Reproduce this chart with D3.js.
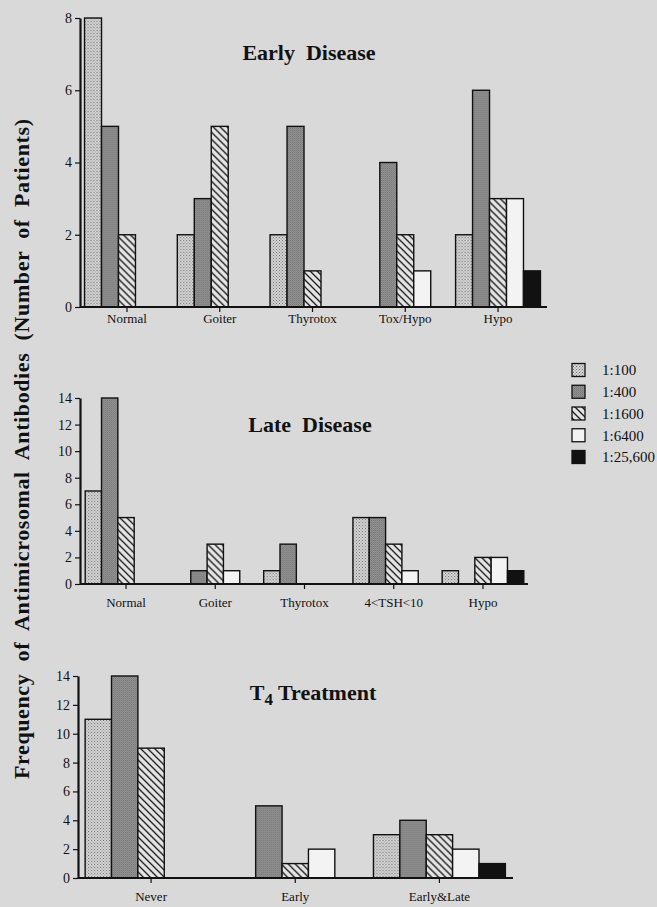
<!DOCTYPE html>
<html>
<head>
<meta charset="utf-8">
<script src="https://cdn.jsdelivr.net/npm/d3@7"></script>
<style>
  html, body { margin: 0; padding: 0; background: #d9d9d9; }
  svg { display: block; }
  text { font-family: "Liberation Serif", "Times New Roman", serif; fill: #111; }
</style>
</head>
<body>
<svg id="chart" width="657" height="907"></svg>
<script>
// ---------------- DATA ----------------
const seriesNames = ["1:100", "1:400", "1:1600", "1:6400", "1:25,600"];

const earlyCategories = ["Normal", "Goiter", "Thyrotox", "Tox/Hypo", "Hypo"];
const earlyValues = [
  [8, 5, 2, 0, 0],
  [2, 3, 5, 0, 0],
  [2, 5, 1, 0, 0],
  [0, 4, 2, 1, 0],
  [2, 6, 3, 3, 1]
];
const earlyTicks = [0, 2, 4, 6, 8];

const lateCategories = ["Normal", "Goiter", "Thyrotox", "4<TSH<10", "Hypo"];
const lateValues = [
  [7, 14, 5, 0, 0],
  [0, 1, 3, 1, 0],
  [1, 3, 0, 0, 0],
  [5, 5, 3, 1, 0],
  [1, 0, 2, 2, 1]
];
const lateTicks = [0, 2, 4, 6, 8, 10, 12, 14];

const treatCategories = ["Never", "Early", "Early&Late"];
const treatValues = [
  [11, 14, 9, 0, 0],
  [0, 5, 1, 2, 0],
  [3, 4, 3, 2, 1]
];
const treatTicks = [0, 2, 4, 6, 8, 10, 12, 14];

const yAxisTitle = "Frequency  of  Antimicrosomal  Antibodies  (Number  of  Patients)";

// ---------------- DRAWING ----------------
const svg = d3.select("#chart");
const defs = svg.append("defs");

// 1:100 light stipple
const p100 = defs.append("pattern").attr("id", "p100").attr("patternUnits", "userSpaceOnUse")
  .attr("width", 3).attr("height", 3);
p100.append("rect").attr("width", 3).attr("height", 3).attr("fill", "#d6d6d6");
p100.append("rect").attr("x", 0).attr("y", 0).attr("width", 1).attr("height", 1).attr("fill", "#6e6e6e");
p100.append("rect").attr("x", 1.5).attr("y", 1.5).attr("width", 1).attr("height", 1).attr("fill", "#7e7e7e");

// 1:400 medium grey texture
const p400 = defs.append("pattern").attr("id", "p400").attr("patternUnits", "userSpaceOnUse")
  .attr("width", 2).attr("height", 2);
p400.append("rect").attr("width", 2).attr("height", 2).attr("fill", "#939393");
p400.append("rect").attr("width", 1).attr("height", 1).attr("fill", "#777777");
p400.append("rect").attr("x", 1).attr("y", 1).attr("width", 1).attr("height", 1).attr("fill", "#838383");

// 1:1600 diagonal hatch
const hs = 7;
const p1600 = defs.append("pattern").attr("id", "p1600").attr("patternUnits", "userSpaceOnUse")
  .attr("width", hs).attr("height", hs);
p1600.append("rect").attr("width", hs).attr("height", hs).attr("fill", "#e4e4e4");
p1600.append("path")
  .attr("d", `M0,0 L${hs},${hs} M${-1},${hs - 1} L1,${hs + 1} M${hs - 1},-1 L${hs + 1},1`)
  .attr("stroke", "#1a1a1a").attr("stroke-width", 1.3);

const fills = ["url(#p100)", "url(#p400)", "url(#p1600)", "#f3f3f3", "#111"];

function drawPanel(opt) {
  const g = svg.append("g");
  const x = d3.scaleBand().domain(opt.categories).range(opt.xRange)
    .paddingInner(0.085).paddingOuter(0.0425);
  const xs = d3.scaleBand().domain(seriesNames).range([0, x.bandwidth()]);
  const y = d3.scaleLinear().domain([0, d3.max(opt.ticks)]).range([opt.y0, opt.yTop]);

  const rows = opt.categories.map((c, i) => ({ cat: c, vals: opt.values[i] }));
  const grp = g.selectAll("g.cat").data(rows).join("g")
    .attr("transform", d => `translate(${x(d.cat)},0)`);
  grp.selectAll("rect").data(d => d.vals.map((v, j) => ({ v, s: seriesNames[j], j })).filter(e => e.v > 0))
    .join("rect")
    .attr("x", e => xs(e.s))
    .attr("width", xs.bandwidth())
    .attr("y", e => y(e.v))
    .attr("height", e => y(0) - y(e.v))
    .attr("fill", e => fills[e.j])
    .attr("stroke", "#111").attr("stroke-width", 1.4);

  // y axis
  const ya = g.append("g").attr("transform", `translate(${opt.axisX},0)`)
    .call(d3.axisLeft(y).tickValues(opt.ticks).tickSize(5).tickSizeOuter(0).tickPadding(3));
  ya.select(".domain").attr("stroke", "#111").attr("stroke-width", 2.2);
  ya.selectAll(".tick line").attr("stroke", "#111").attr("stroke-width", 1.2);
  ya.selectAll(".tick text").style("font-size", "14px").attr("fill", "#222")
    .style("font-family", '"Liberation Serif", serif');

  // x axis
  const xa = g.append("g").attr("transform", `translate(0,${opt.y0})`)
    .call(d3.axisBottom(x).tickSize(5).tickSizeOuter(0).tickPadding(opt.labelPad));
  xa.select(".domain").remove();
  xa.selectAll(".tick line").attr("stroke", "#111").attr("stroke-width", 1.2);
  xa.selectAll(".tick text").style("font-size", "13px").attr("fill", "#222")
    .style("font-family", '"Liberation Serif", serif');
  g.append("line").attr("x1", opt.axisX).attr("x2", opt.axisEnd)
    .attr("y1", opt.y0).attr("y2", opt.y0).attr("stroke", "#111").attr("stroke-width", 1.8);

  // title
  const t = g.append("text").attr("x", opt.titleX).attr("y", opt.titleY)
    .attr("text-anchor", "middle").style("font-size", "22px").style("font-weight", "bold")
    .style("white-space", "pre");
  opt.title(t);
}

drawPanel({
  categories: earlyCategories, values: earlyValues, ticks: earlyTicks,
  xRange: [80.6, 544.4], y0: 307, yTop: 18, axisX: 80, axisEnd: 547, labelPad: 2,
  titleX: 309, titleY: 60,
  title: t => t.text("Early  Disease")
});

drawPanel({
  categories: lateCategories, values: lateValues, ticks: lateTicks,
  xRange: [81.4, 527.6], y0: 584, yTop: 398, axisX: 80, axisEnd: 528, labelPad: 9,
  titleX: 310, titleY: 432,
  title: t => t.text("Late  Disease")
});

drawPanel({
  categories: treatCategories, values: treatValues, ticks: treatTicks,
  xRange: [79, 511.5], y0: 878, yTop: 676, axisX: 78, axisEnd: 513, labelPad: 9,
  titleX: 313, titleY: 700,
  title: t => {
    t.append("tspan").text("T");
    t.append("tspan").text("4").attr("dy", 5).style("font-size", "17px");
    t.append("tspan").text(" Treatment").attr("dy", -5);
  }
});

// legend
const lg = svg.append("g");
const ly = d3.scalePoint().domain(seriesNames).range([370, 457]);
seriesNames.forEach((s, i) => {
  lg.append("rect").attr("x", 572).attr("y", ly(s) - 6.5).attr("width", 13).attr("height", 13)
    .attr("fill", fills[i]).attr("stroke", "#111").attr("stroke-width", 1.3);
  lg.append("text").attr("x", 602).attr("y", ly(s)).attr("dy", "0.35em")
    .style("font-size", "15px").attr("fill", "#222").text(s);
});

// y axis title
svg.append("text")
  .attr("transform", "translate(29,449) rotate(-90)")
  .attr("text-anchor", "middle")
  .attr("textLength", 660).attr("lengthAdjust", "spacing")
  .style("font-size", "22px").style("font-weight", "bold")
  .style("white-space", "pre")
  .text(yAxisTitle);
</script>
</body>
</html>
